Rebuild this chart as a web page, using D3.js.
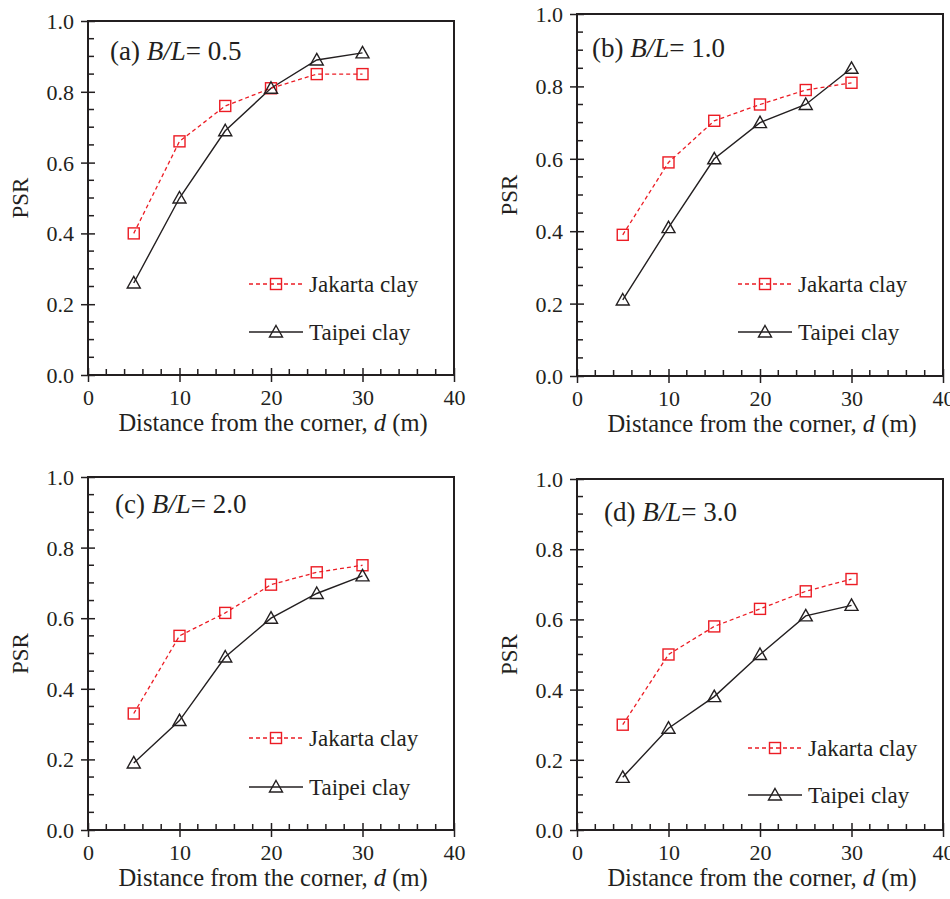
<!DOCTYPE html>
<html>
<head>
<meta charset="utf-8">
<script src="https://cdn.jsdelivr.net/npm/d3@7"></script>
<style>
body { margin: 0; background: #fff; }
svg text { font-family: "Liberation Serif", "Times New Roman", serif; fill: #231f20; }
</style>
</head>
<body>
<svg id="chart" width="950" height="899"></svg>
<script>
const distances = [5, 10, 15, 20, 25, 30];
const ratioLabels = ["0.5", "1.0", "2.0", "3.0"];
const panelLetters = ["a", "b", "c", "d"];
const jakartaA = [0.40, 0.66, 0.76, 0.81, 0.85, 0.85];
const taipeiA  = [0.26, 0.50, 0.69, 0.81, 0.89, 0.91];
const jakartaB = [0.39, 0.59, 0.705, 0.75, 0.79, 0.81];
const taipeiB  = [0.21, 0.41, 0.60, 0.70, 0.75, 0.85];
const jakartaC = [0.33, 0.55, 0.615, 0.695, 0.73, 0.75];
const taipeiC  = [0.19, 0.31, 0.49, 0.60, 0.67, 0.72];
const jakartaD = [0.30, 0.50, 0.58, 0.63, 0.68, 0.715];
const taipeiD  = [0.15, 0.29, 0.38, 0.50, 0.61, 0.64];
const seriesNames = ["Jakarta clay", "Taipei clay"];
const xTicks = [0, 10, 20, 30, 40];
const yTicks = [0.0, 0.2, 0.4, 0.6, 0.8, 1.0];

const jakartaSets = [jakartaA, jakartaB, jakartaC, jakartaD];
const taipeiSets = [taipeiA, taipeiB, taipeiC, taipeiD];

// layout (pixels)
const layouts = [
  {x0: 88,  x1: 454, yb: 375, yt: 21,  lx: 110, ly: 60,  gx: 249, gy1: 284, gy2: 332},
  {x0: 577, x1: 943, yb: 376, yt: 14,  lx: 592, ly: 57,  gx: 738, gy1: 284, gy2: 332},
  {x0: 88,  x1: 454, yb: 830, yt: 477, lx: 115, ly: 513, gx: 249, gy1: 738, gy2: 787},
  {x0: 577, x1: 943, yb: 830, yt: 479, lx: 604, ly: 521, gx: 748, gy1: 748, gy2: 795}
];

const RED = "#ec1c24";
const INK = "#231f20";
const svg = d3.select("#chart");

function square(g, x, y) {
  g.append("rect").attr("x", x - 5.5).attr("y", y - 5.5).attr("width", 11).attr("height", 11)
    .attr("fill", "none").attr("stroke", RED).attr("stroke-width", 1.4);
}
function triangle(g, x, y) {
  g.append("path").attr("d", `M${x},${y - 6.5} L${x + 6.5},${y + 5} L${x - 6.5},${y + 5} Z`)
    .attr("fill", "none").attr("stroke", INK).attr("stroke-width", 1.4);
}

layouts.forEach((L, i) => {
  const g = svg.append("g");
  const x = d3.scaleLinear().domain([0, 40]).range([L.x0, L.x1]);
  const y = d3.scaleLinear().domain([0, 1]).range([L.yb, L.yt]);

  // frame
  g.append("rect").attr("x", L.x0).attr("y", L.yt).attr("width", L.x1 - L.x0).attr("height", L.yb - L.yt)
    .attr("fill", "none").attr("stroke", INK).attr("stroke-width", 2);

  // minor ticks
  const xMinor = d3.range(2, 40, 2).filter(v => v % 10 !== 0);
  g.selectAll(null).data(xMinor).enter().append("line")
    .attr("x1", d => x(d)).attr("x2", d => x(d)).attr("y1", L.yb).attr("y2", L.yb - 6)
    .attr("stroke", INK).attr("stroke-width", 1.5);
  const yMinor = d3.range(1, 20).map(v => v * 0.05).filter((v, k) => (k + 1) % 4 !== 0);
  g.selectAll(null).data(yMinor).enter().append("line")
    .attr("x1", L.x0).attr("x2", L.x0 + 6).attr("y1", d => y(d)).attr("y2", d => y(d))
    .attr("stroke", INK).attr("stroke-width", 1.5);

  // axes with major ticks (crossing)
  const xAxis = d3.axisBottom(x).tickValues(xTicks).tickFormat(d3.format("d")).tickSize(7).tickSizeOuter(0);
  const gx = g.append("g").attr("transform", `translate(0,${L.yb})`).call(xAxis);
  gx.select(".domain").remove();
  gx.selectAll(".tick line").attr("y1", -7).attr("stroke", INK).attr("stroke-width", 1.5);
  gx.selectAll(".tick text").attr("y", 0).attr("dy", 30).style("font-size", "22px")
    .style("font-family", "Liberation Serif").attr("fill", INK);

  const yAxis = d3.axisLeft(y).tickValues(yTicks).tickFormat(d3.format(".1f")).tickSize(7).tickSizeOuter(0);
  const gy = g.append("g").attr("transform", `translate(${L.x0},0)`).call(yAxis);
  gy.select(".domain").remove();
  gy.selectAll(".tick line").attr("x1", 7).attr("stroke", INK).attr("stroke-width", 1.5);
  gy.selectAll(".tick text").attr("x", -14).attr("dy", "0.34em").style("font-size", "22px")
    .style("font-family", "Liberation Serif").attr("fill", INK);

  // axis titles
  const xt = g.append("text").attr("x", (L.x0 + L.x1) / 2 + 2).attr("y", L.yb + 56)
    .attr("text-anchor", "middle").style("font-size", "24.5px");
  xt.append("tspan").text("Distance from the corner, ");
  xt.append("tspan").attr("font-style", "italic").text("d");
  xt.append("tspan").text(" (m)");

  g.append("text").attr("transform", `translate(${L.x0 - 60},${(L.yb + L.yt) / 2}) rotate(-90)`)
    .attr("text-anchor", "middle").style("font-size", "23px").text("PSR");

  // panel label
  const pl = g.append("text").attr("x", L.lx).attr("y", L.ly).style("font-size", "27px");
  pl.append("tspan").text(`(${panelLetters[i]}) `);
  pl.append("tspan").attr("font-style", "italic").text("B/L");
  pl.append("tspan").text("= " + ratioLabels[i]);

  // data lines
  const line = d3.line().x(d => x(d[0])).y(d => y(d[1]));
  const jd = distances.map((d, k) => [d, jakartaSets[i][k]]);
  const td = distances.map((d, k) => [d, taipeiSets[i][k]]);
  g.append("path").datum(td).attr("d", line).attr("fill", "none").attr("stroke", INK).attr("stroke-width", 1.4);
  g.append("path").datum(jd).attr("d", line).attr("fill", "none").attr("stroke", RED)
    .attr("stroke-width", 1.3).attr("stroke-dasharray", "4,3");
  jd.forEach(p => square(g, x(p[0]), y(p[1])));
  td.forEach(p => triangle(g, x(p[0]), y(p[1])));

  // legend
  g.append("line").attr("x1", L.gx).attr("x2", L.gx + 54).attr("y1", L.gy1).attr("y2", L.gy1)
    .attr("stroke", RED).attr("stroke-width", 1.3).attr("stroke-dasharray", "4,3");
  square(g, L.gx + 27, L.gy1);
  g.append("text").attr("x", L.gx + 60).attr("y", L.gy1 + 8).style("font-size", "23px").text(seriesNames[0]);
  g.append("line").attr("x1", L.gx).attr("x2", L.gx + 54).attr("y1", L.gy2).attr("y2", L.gy2)
    .attr("stroke", INK).attr("stroke-width", 1.4);
  triangle(g, L.gx + 27, L.gy2);
  g.append("text").attr("x", L.gx + 60).attr("y", L.gy2 + 8).style("font-size", "23px").text(seriesNames[1]);
});
</script>
</body>
</html>
